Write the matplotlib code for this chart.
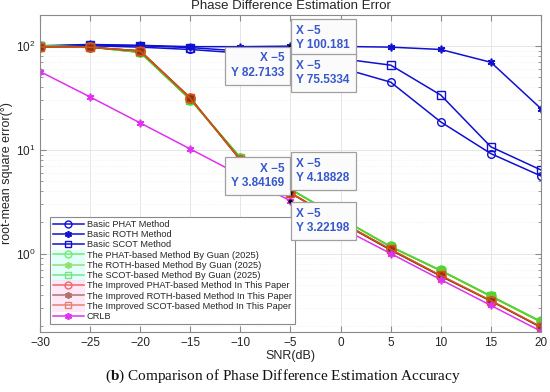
import matplotlib
matplotlib.use("Agg")
import matplotlib.pyplot as plt
from matplotlib.lines import Line2D
from matplotlib.patches import Rectangle
from matplotlib.transforms import IdentityTransform

plt.rcParams['font.family'] = ['Liberation Sans', 'DejaVu Sans']
plt.rcParams['mathtext.fontset'] = 'custom'
plt.rcParams['mathtext.rm'] = 'Liberation Sans'
plt.rcParams['mathtext.bf'] = 'Liberation Serif:bold'

# data
snr = [-30, -25, -20, -15, -10, -5, 0, 5, 10, 15, 20]
basic_phat = [99, 101, 98, 93, 86, 75.5334, 62, 45, 18.6, 9.2, 5.6]
basic_roth = [101, 104, 102, 99, 99, 100.181, 99.5, 98, 93, 70, 25]
basic_scot = [100, 103, 101, 97, 90, 82.7133, 76, 65.7, 33.8, 10.7, 6.4]
guan_phat = [100, 98, 87, 30.5, 8.4, 4.18828, 2.2, 1.17, 0.69, 0.39, 0.222]
guan_roth = [101, 98.5, 87.5, 30.8, 8.45, 4.15, 2.18, 1.16, 0.68, 0.385, 0.218]
guan_scot = [100.5, 98.2, 87.2, 30.6, 8.42, 4.17, 2.19, 1.165, 0.685, 0.39, 0.22]
impr_phat = [98.5, 97.5, 90, 31.8, 8.0, 3.84169, 2.02, 1.09, 0.61, 0.35, 0.195]
impr_roth = [98.8, 97.8, 90.2, 31.6, 8.02, 3.83, 2.0, 1.08, 0.605, 0.348, 0.194]
impr_scot = [98.6, 97.6, 90.1, 31.4, 7.98, 3.85, 2.03, 1.10, 0.615, 0.352, 0.197]
crlb = [57, 32.4, 18.2, 10.2, 5.7, 3.22198, 1.78, 1.0, 0.56, 0.316, 0.178]

tip_x = -5
tip_vals = [100.181, 82.7133, 75.5334, 3.84169, 4.18828, 3.22198]
# offsets (pixels) and alignment of each data tip box
tip_offs = [(6, 8, 'left'), (-6, -11, 'right'), (6, -14, 'left'),
            (-6, 17, 'right'), (6, 18, 'left'), (6, -20, 'left')]

AST = (6, 2, 0)  # matlab style asterisk
series = [
    ("Basic PHAT Method", basic_phat, '#1010d0', 'o', 'none'),
    ("Basic ROTH Method", basic_roth, '#1010d0', AST, None),
    ("Basic SCOT Method", basic_scot, '#1010d0', 's', 'none'),
    ("The PHAT-based Method By Guan (2025)", guan_phat, '#44dd22', 'o', 'fill'),
    ("The ROTH-based Method By Guan (2025)", guan_roth, '#77cc11', AST, None),
    ("The SCOT-based Method By Guan (2025)", guan_scot, '#55d040', 's', 'none'),
    ("The Improved PHAT-based Method In This Paper", impr_phat, '#ee2211', 'o', 'fill'),
    ("The Improved ROTH-based Method In This Paper", impr_roth, '#7a3a10', AST, None),
    ("The Improved SCOT-based Method In This Paper", impr_scot, '#d0561e', 's', 'none'),
    ("CRLB", crlb, '#e030f0', AST, None),
]

fig = plt.figure(figsize=(5.5, 3.92), dpi=100)
ax = fig.add_axes([0.0727, 0.153, 0.9109, 0.8087])

handles = []
for label, vals, col, mk, face in series:
    ms = 5.5
    if face == 'fill':
        ms = 6.5
    mfc = col if face != 'none' else 'none'
    ax.plot(snr, vals, color=col, marker=mk, ms=ms, mfc=mfc, mec=col,
            mew=1.2 if mk == AST else 1.0, lw=1.1)
    handles.append(Line2D([], [], color=col, marker=mk, ms=5,
                          mfc='none', mec=col, mew=1.2 if mk == AST else 1.0,
                          lw=1.1, label=label))

ax.set_yscale('log')
ax.set_xlim(-30, 20)
ax.set_ylim(0.175, 200)
ax.set_xticks(range(-30, 21, 5))
ax.grid(True, which='major', color='#e2e2e2', lw=0.6)
ax.grid(True, which='minor', axis='y', color='#eeeeee', lw=0.5, ls=':')
ax.set_axisbelow(True)
for s in ax.spines.values():
    s.set_color('#8a8a8a')
    s.set_linewidth(0.8)
ax.tick_params(which='both', direction='in', top=True, right=True,
               colors='#8a8a8a', labelcolor='#262626', labelsize=8.5)
ax.tick_params(which='major', length=4)
ax.tick_params(which='minor', length=2)

ax.set_title("Phase Difference Estimation Error", fontsize=9.5, color='#262626', pad=4)
ax.set_xlabel("SNR(dB)", fontsize=9, color='#262626', labelpad=1)
ax.set_ylabel("root-mean square error(°)", fontsize=9, color='#262626', labelpad=2)

# data tips at SNR = -5
ax.plot([tip_x] * len(tip_vals), tip_vals, 'k.', ms=4, zorder=8)
for v, (dx, dy, ha) in zip(tip_vals, tip_offs):
    ax.annotate("X \u22125\nY %s" % v, xy=(tip_x, v), xytext=(dx, dy),
                textcoords='offset pixels', ha=ha, va='center',
                fontsize=8.5, fontweight='bold', color='#3858cc',
                linespacing=1.3, zorder=9,
                bbox=dict(boxstyle='square,pad=0.5', fc='#fbfbfb',
                          ec='#a0a0a0', lw=0.9))

leg = ax.legend(handles=handles, loc='lower left', bbox_to_anchor=(0.01, 0.01),
                fontsize=6.7, labelspacing=0.13, handlelength=3.3,
                handletextpad=0.35, borderpad=0.35, fancybox=False,
                framealpha=1, edgecolor='#8a8a8a')
leg.get_frame().set_linewidth(0.8)
for t in leg.get_texts():
    t.set_color('#262626')

fig.text(0.515, 0.04, r"($\mathbf{b}$) Comparison of Phase Difference Estimation Accuracy",
         ha='center', va='center', fontsize=11, family='Liberation Serif', color='#111111')

# light tint behind the Guan / improved legend handles
fig.canvas.draw()
lb = leg.get_window_extent()
texts = leg.get_texts()
for rows, col in (((3, 4, 5), '#b8fff4'), ((6, 7, 8), '#ffc8ee')):
    ex = [texts[i].get_window_extent() for i in rows]
    y0 = min(e.y0 for e in ex) - 1
    y1 = max(e.y1 for e in ex) + 1
    x1 = ex[0].x0 - 2
    fig.add_artist(Rectangle((lb.x0 + 2, y0), x1 - lb.x0 - 2, y1 - y0,
                             transform=IdentityTransform(), fc=col, ec='none',
                             alpha=0.4, zorder=6))

fig.savefig("out.png", dpi=100)
